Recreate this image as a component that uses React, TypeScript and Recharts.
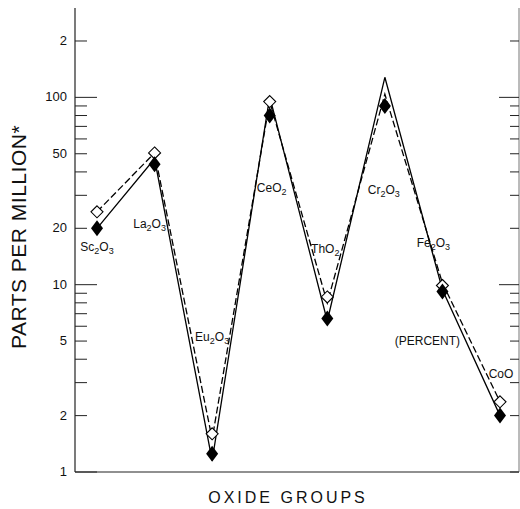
import { LineChart, Line, XAxis, YAxis, LabelList } from 'recharts'

const categories = ['Sc2O3', 'La2O3', 'Eu2O3', 'CeO2', 'ThO2', 'Cr2O3', 'Fe2O3', 'CoO']
// filled diamonds (solid trace) and open diamonds (dashed trace)
const filledValues = [20, 44, 1.25, 80, 6.6, 90, 9.2, 2.0]
const openValues = [24.5, 50.5, 1.6, 95, 8.6, null, 9.9, 2.37]
const solidTrace = [20, 47, 1.15, 101, 6.4, 128, 9.4, 2.0]
const dashedTrace = [24.5, 50.5, 1.5, 95, 8.0, 104, 10.2, 2.37]

const yTicks = [1, 2, 3, 4, 5, 6, 7, 8, 9, 10, 20, 30, 40, 50, 60, 70, 80, 90, 100, 200]
const yTickLabels: Record<number, string> = { 1: '1', 2: '2', 5: '5', 10: '10', 20: '20', 50: '50', 100: '100', 200: '2' }

const data = categories.map((name, i) => ({
  name,
  filled: filledValues[i],
  open: openValues[i],
  solid: solidTrace[i],
  dashed: dashedTrace[i],
}))

// label placement relative to the filled diamond
const labelOffset: Record<string, [number, number]> = {
  Sc2O3: [0, 23],
  La2O3: [-5, 64],
  Eu2O3: [0, -113],
  CeO2: [2, 76],
  ThO2: [-2, -65],
  Cr2O3: [-1, 88],
  Fe2O3: [-9, -44],
  CoO: [1, -38],
}

const W = 520
const H = 509
const PLOT_LEFT = 75
const PLOT_RIGHT = 519
const FONT = '"Liberation Sans", Arial, sans-serif'

function Formula({ x, y, text }: { x: number; y: number; text: string }) {
  const parts = text.match(/[A-Za-z]+|\d+/g) || []
  return (
    <text x={x} y={y} textAnchor="middle" fontFamily={FONT} fontSize={12} fill="#111">
      {parts.map((p, i) =>
        /\d/.test(p) ? (
          <tspan key={i} fontSize={9} dy={3}>{p}</tspan>
        ) : (
          <tspan key={i} dy={i > 0 ? -3 : 0}>{p}</tspan>
        ),
      )}
    </text>
  )
}

const LeftTick = ({ y, payload }: any) => {
  const v = payload.value
  const len = v === 1 || v === 10 || v === 100 ? 22 : 12
  return (
    <g>
      <line x1={PLOT_LEFT} x2={PLOT_LEFT + len} y1={y} y2={y} stroke="#222" strokeWidth={1} />
      {yTickLabels[v] && (
        <text x={PLOT_LEFT - 8} y={y + 4} textAnchor="end" fontFamily={FONT} fontSize={13} fill="#111">
          {yTickLabels[v]}
        </text>
      )}
    </g>
  )
}

const RightTick = ({ y, payload }: any) => {
  const v = payload.value
  const len = v === 10 || v === 100 ? 20 : 9
  return <line x1={PLOT_RIGHT} x2={PLOT_RIGHT - len} y1={y} y2={y} stroke="#222" strokeWidth={1} />
}

const FilledDiamond = ({ cx, cy, index }: any) => {
  if (cx == null || cy == null) return <g key={index} />
  return (
    <path key={index} d={`M${cx},${cy - 8} L${cx + 6},${cy} L${cx},${cy + 8} L${cx - 6},${cy} Z`} fill="#000" />
  )
}

const OpenDiamond = ({ cx, cy, index }: any) => {
  if (cx == null || cy == null) return <g key={index} />
  return (
    <path
      key={index}
      d={`M${cx},${cy - 6} L${cx + 6},${cy} L${cx},${cy + 6} L${cx - 6},${cy} Z`}
      fill="#fff"
      stroke="#000"
      strokeWidth={1.1}
    />
  )
}

const PointLabel = ({ x, y, index }: any) => {
  const name = categories[index]
  const [dx, dy] = labelOffset[name]
  return (
    <g>
      <Formula x={x + dx} y={y + dy} text={name} />
      {name === 'Fe2O3' && (
        <text x={x - 15} y={y + 54} textAnchor="middle" fontFamily={FONT} fontSize={12} fill="#111">
          (PERCENT)
        </text>
      )}
    </g>
  )
}

export default function App() {
  return (
    <div style={{ position: 'absolute', left: 0, top: 0, width: W, height: H, background: '#fff' }}>
      <LineChart width={W} height={H} data={data} margin={{ top: 8, right: 0, bottom: 0, left: 0 }}>
        <XAxis
          dataKey="name"
          padding={{ left: 22, right: 19 }}
          tick={false}
          tickLine={false}
          height={37}
          axisLine={{ stroke: '#222', strokeWidth: 1.2 }}
        />
        <YAxis
          yAxisId="left"
          scale="log"
          type="number"
          domain={[1, 300]}
          allowDataOverflow
          ticks={yTicks}
          interval={0}
          width={PLOT_LEFT}
          tickSize={0}
          tick={<LeftTick />}
          tickLine={false}
          axisLine={{ stroke: '#222', strokeWidth: 1.2 }}
        />
        <YAxis
          yAxisId="right"
          orientation="right"
          scale="log"
          type="number"
          domain={[1, 300]}
          allowDataOverflow
          ticks={yTicks}
          interval={0}
          width={1}
          tickSize={0}
          tick={<RightTick />}
          tickLine={false}
          axisLine={{ stroke: '#777', strokeWidth: 1 }}
        />
        <Line
          yAxisId="left"
          dataKey="solid"
          type="linear"
          stroke="#000"
          strokeWidth={1.3}
          dot={false}
          isAnimationActive={false}
        />
        <Line
          yAxisId="left"
          dataKey="dashed"
          type="linear"
          stroke="#000"
          strokeWidth={1.3}
          strokeDasharray="7 3"
          dot={false}
          isAnimationActive={false}
        />
        <Line
          yAxisId="left"
          dataKey="open"
          stroke="none"
          dot={<OpenDiamond />}
          activeDot={false}
          isAnimationActive={false}
        />
        <Line
          yAxisId="left"
          dataKey="filled"
          stroke="none"
          dot={<FilledDiamond />}
          activeDot={false}
          isAnimationActive={false}
        >
          <LabelList dataKey="filled" content={<PointLabel />} />
        </Line>
        <text
          x={20}
          y={237}
          transform="rotate(-90 20 237)"
          textAnchor="middle"
          dominantBaseline="middle"
          fontFamily={FONT}
          fontSize={21}
          letterSpacing={0.5}
          fill="#111"
        >
          PARTS PER MILLION*
        </text>
        <text x={288} y={503} textAnchor="middle" fontFamily={FONT} fontSize={16} letterSpacing={3} fill="#111">
          OXIDE GROUPS
        </text>
      </LineChart>
    </div>
  )
}
